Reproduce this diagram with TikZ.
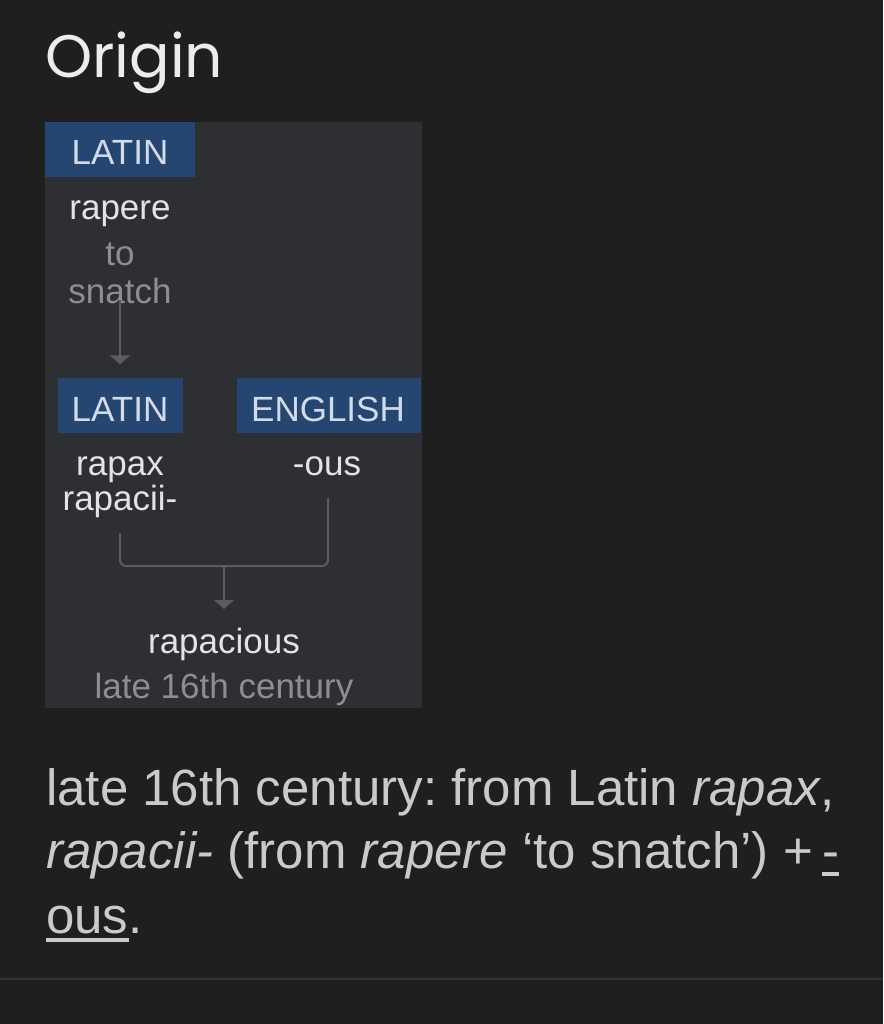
\documentclass[tikz,border=0pt]{standalone}
\usepackage{fontspec}
\setmainfont{Liberation Sans}
\newfontfamily\titlefont{Poppins}
\usetikzlibrary{arrows.meta}
\definecolor{bg}{HTML}{1F1F1F}
\definecolor{panelc}{HTML}{2E2F33}
\definecolor{tagc}{HTML}{264672}
\definecolor{tagtext}{HTML}{D3DAEA}
\definecolor{wordc}{HTML}{E2E3E6}
\definecolor{glossc}{HTML}{8C8E94}
\definecolor{connc}{HTML}{5A5C61}
\definecolor{parac}{HTML}{C9CACD}
\definecolor{rulec}{HTML}{323334}
\definecolor{titlec}{HTML}{ECECEC}
\frenchspacing
\begin{document}
\begin{tikzpicture}[x=1pt,y=-1pt,
  tagbox/.style={fill=tagc, inner sep=0pt, minimum height=55pt},
  tagtxt/.style={text=tagtext, inner sep=0pt, anchor=base, font=\fontsize{35}{37}\selectfont},
  wordtxt/.style={text=wordc, inner sep=0pt, anchor=base, font=\fontsize{35}{37}\selectfont},
  glosstxt/.style={text=glossc, inner sep=0pt, anchor=base, font=\fontsize{35}{37}\selectfont},
  conn/.style={draw=connc, line width=2pt},
  arr/.style={conn, -{Triangle[width=20pt,length=9pt]}},
  paratxt/.style={text=parac, inner sep=0pt, anchor=base west, font=\fontsize{51}{63}\selectfont},
  ulin/.style={draw=parac, line width=3.5pt}]
\fill[bg] (0,0) rectangle (883,1024);
\useasboundingbox (0,0) rectangle (883,1024);

% title
\node[text=titlec, inner sep=0pt, anchor=base west, font=\titlefont\fontsize{60}{62}\selectfont] (title) at (45,78) {Origin};

% panel
\node[fill=panelc, inner sep=0pt, minimum width=377pt, minimum height=586pt, anchor=north west] (panel) at (45,122) {};

% tags
\node[tagbox, minimum width=150pt] (latin1) at (120,149.5) {};
\node[tagtxt] (latin1t) at (120,165) {LATIN};
\node[tagbox, minimum width=125pt] (latin2) at (120,405) {};
\node[tagtxt] (latin2t) at (120,421) {LATIN};
\node[tagbox, minimum width=184pt] (english) at (329,405) {};
\node[tagtxt] (englisht) at (328,421) {ENGLISH};

% words
\node[wordtxt] (rapere) at (120,219) {rapere};
\node[glosstxt] (to) at (120,265) {to};
\node[glosstxt] (snatch) at (120,303) {snatch};
\node[wordtxt] (rapax) at (120,475) {rapax};
\node[wordtxt] (rapacii) at (120,510) {rapacii-};
\node[wordtxt] (ous) at (327,475) {-ous};
\node[wordtxt] (rapacious) at (224,653) {rapacious};
\node[glosstxt] (late) at (224,698) {late 16th century};

% connectors
\coordinate (a1) at (120,300);
\draw[arr] (a1) -- ([yshift=13pt]latin2.north);
\coordinate (bl) at (120,533);
\coordinate (br) at (328,498);
\coordinate (bj) at (224,566);
\coordinate (t2) at (224,609);
\draw[conn, rounded corners=6pt] (bl) |- (bj) -| (br);
\draw[arr] (bj) -- (t2);

% paragraph
\node[paratxt] (p1) at (46,805) {late 16th century: from Latin \textit{rapax},};
\node[paratxt] (p2) at (46,868) {\textit{rapacii-} (from \textit{rapere} ‘to snatch’) +};
\node[paratxt, xshift=9pt] (hy) at (p2.base east) {-};
\node[paratxt] (pous) at (46,933) {ous};
\node[paratxt] (pdot) at (pous.base east) {.};
\draw[ulin] ([yshift=-6pt]hy.base west) -- ([yshift=-6pt]hy.base east);
\draw[ulin] ([yshift=-7pt]pous.base west) -- ([yshift=-7pt]pous.base east);

% divider
\draw[draw=rulec, line width=2pt] (0,979) -- (883,979);
\end{tikzpicture}
\end{document}
